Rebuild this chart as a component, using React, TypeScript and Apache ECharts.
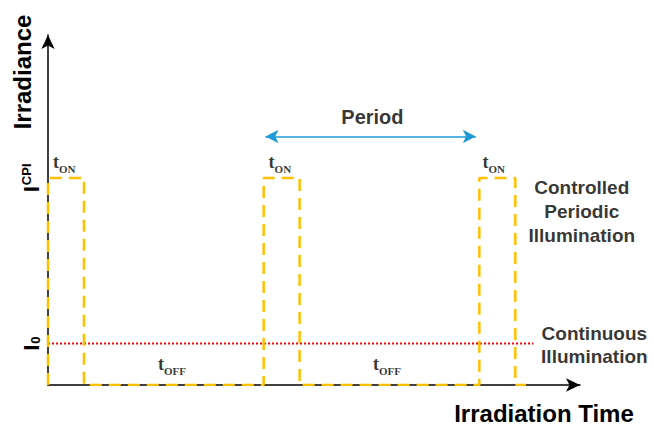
import React, { useEffect, useRef } from "react";
import * as echarts from "echarts";

// ---- data (time units / irradiance units) ----
const pulseTimes = [0, 0, 1, 1, 6, 6, 7, 7, 12, 12, 13, 13, 13.3];
const pulseLevels = [0, 10, 10, 0, 0, 10, 10, 0, 0, 10, 10, 0, 0];
const continuousTimes = [0, 13.5];
const continuousLevels = [2, 2];
const periodStart = 6.05;
const periodEnd = 11.9;
const periodLevel = 12;
const tOnX = [0.45, 6.45, 12.4];
const tOnY = 10.75;
const tOffX = [3.45, 9.43];
const tOffY = 1.0;
const yTickLabels: Record<number, string> = { 2: "{b|I}{sub|0}", 10: "{b|I}{sup|CPI}" };
const X_MAX = 14.8;
const Y_MAX = 16.9;

const SANS = "'Liberation Sans', Arial, sans-serif";
const SERIF = "'Liberation Serif', 'Times New Roman', serif";
const YELLOW = "#FFC000";
const BLUE = "#1E9BD7";

export default function App() {
  const ref = useRef<HTMLDivElement>(null);
  useEffect(() => {
    if (!ref.current) return;
    const chart = echarts.init(ref.current, null, { renderer: "svg" });
    const tRich = {
      t: { fontFamily: SERIF, fontWeight: "bold", fontSize: 18, color: "#000", lineHeight: 18, verticalAlign: "bottom" },
      s: { fontFamily: SERIF, fontWeight: "bold", fontSize: 11, color: "#000", lineHeight: 11, verticalAlign: "bottom", padding: [0, 0, -3, 0] },
    };
    const textPoint = (x: number, y: number, text: string, rich?: any, style?: any) => ({
      value: [x, y],
      label: {
        show: true,
        position: "inside",
        formatter: text,
        rich,
        ...(style || {}),
      },
    });
    const option: any = {
      animation: false,
      backgroundColor: "#fff",
      grid: { left: 48, top: 35, right: 74, bottom: 42 },
      xAxis: {
        type: "value",
        min: 0,
        max: X_MAX,
        axisLine: { show: true, symbol: ["none", "arrow"], symbolSize: [10, 14], lineStyle: { color: "#000", width: 1.5 } },
        axisTick: { show: false },
        axisLabel: { show: false },
        splitLine: { show: false },
      },
      yAxis: {
        type: "value",
        min: 0,
        max: Y_MAX,
        interval: 2,
        axisLine: { show: true, symbol: ["none", "arrow"], symbolSize: [10, 14], lineStyle: { color: "#000", width: 1.5 } },
        axisTick: { show: false },
        splitLine: { show: false },
        axisLabel: {
          show: true,
          rotate: 90,
          margin: 6,
          formatter: (v: number) => yTickLabels[v] || "",
          rich: {
            b: { fontFamily: SANS, fontWeight: "bold", fontSize: 22, color: "#000", lineHeight: 22, verticalAlign: "bottom" },
            sup: { fontFamily: SANS, fontWeight: "bold", fontSize: 13, color: "#000", lineHeight: 22, verticalAlign: "top", padding: [0, 0, 8, 1] },
            sub: { fontFamily: SANS, fontWeight: "bold", fontSize: 13, color: "#000", lineHeight: 22, verticalAlign: "bottom", padding: [8, 0, 0, 1] },
          },
        },
      },
      series: [
        {
          type: "line",
          data: continuousTimes.map((t, i) => [t, continuousLevels[i]]),
          symbol: "none",
          lineStyle: { color: "#FF0000", width: 2, type: [2, 2] },
          z: 2,
        },
        {
          type: "line",
          data: pulseTimes.map((t, i) => [t, pulseLevels[i]]),
          symbol: "none",
          lineStyle: { color: YELLOW, width: 2.5, type: [12, 7] },
          z: 3,
          markLine: {
            silent: true,
            symbol: ["arrow", "arrow"],
            symbolSize: [10, 13],
            label: { show: false },
            lineStyle: { color: BLUE, width: 1.5, type: "solid" },
            data: [[{ coord: [periodStart, periodLevel] }, { coord: [periodEnd, periodLevel] }]],
          },
        },
        {
          type: "scatter",
          symbolSize: 0,
          clip: false,
          z: 5,
          data: [
            ...tOnX.map((x) => textPoint(x, tOnY, "{t|t}{s|ON}", tRich)),
            ...tOffX.map((x) => textPoint(x, tOffY, "{t|t}{s|OFF}", tRich)),
            textPoint((periodStart + periodEnd) / 2 + 0.05, periodLevel + 0.95, "Period", undefined, {
              fontFamily: SANS, fontWeight: "bold", fontSize: 20, color: "#000",
            }),
            textPoint(14.85, 8.36, "Controlled\nPeriodic\nIllumination", undefined, {
              fontFamily: SANS, fontWeight: "bold", fontSize: 19, color: "#000", lineHeight: 24, align: "center",
            }),
            textPoint(15.2, 1.93, "Continuous\nIllumination", undefined, {
              fontFamily: SANS, fontWeight: "bold", fontSize: 19, color: "#000", lineHeight: 23, align: "center",
            }),
          ],
        },
      ],
      graphic: [
        {
          type: "text",
          x: 22,
          y: 72,
          rotation: Math.PI / 2,
          style: {
            text: "Irradiance",
            fontFamily: SANS,
            fontWeight: "bold",
            fontSize: 24,
            fill: "#000",
            align: "center",
            verticalAlign: "middle",
          },
        },
        {
          type: "text",
          x: 544,
          y: 413,
          style: {
            text: "Irradiation Time",
            fontFamily: SANS,
            fontWeight: "bold",
            fontSize: 24,
            fill: "#000",
            align: "center",
            verticalAlign: "middle",
          },
        },
      ],
    };
    chart.setOption(option);
    return () => chart.dispose();
  }, []);
  return (
    <div
      ref={ref}
      style={{ position: "fixed", left: 0, top: 0, width: 654, height: 427, background: "#fff" }}
    />
  );
}
